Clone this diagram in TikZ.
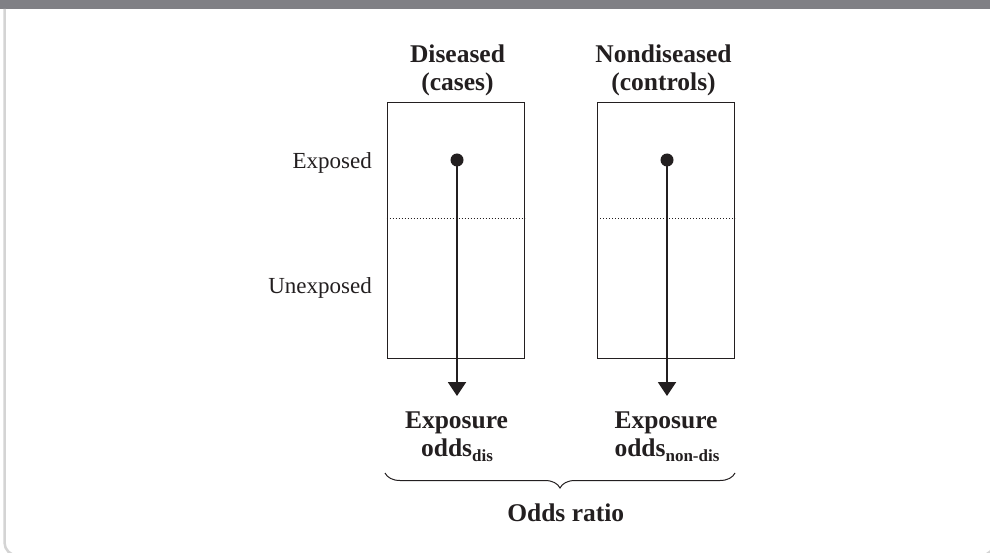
\documentclass[tikz,border=0pt]{standalone}
\usepackage{fontspec}
\setmainfont{Liberation Serif}
\usetikzlibrary{arrows.meta,decorations.pathreplacing}
\definecolor{ink}{HTML}{231F20}
\definecolor{barc}{HTML}{808085}
\definecolor{framec}{HTML}{D4D4D4}
\newcommand{\subtxt}[1]{\raisebox{-5pt}{\fontsize{17}{17}\selectfont #1}}
\begin{document}
\begin{tikzpicture}[x=1pt,y=-1pt,
  lab/.style={text=ink,inner sep=0pt,font=\fontsize{23}{28}\selectfont},
  hd/.style={text=ink,inner sep=0pt,font=\fontsize{25.5}{29}\selectfont\bfseries},
  colbox/.style={draw=ink,line width=1pt,minimum width=137pt,minimum height=255pt,inner sep=0pt},
  blob/.style={circle,fill=ink,inner sep=0pt,minimum size=13pt},
  sep/.style={ink,line width=0.8pt,dash pattern=on 1.4pt off 1.6pt},
  pointer/.style={ink,line width=2pt,-{Triangle[width=18pt,length=14pt]}}
]
\useasboundingbox (0,0) rectangle (990,553);
\fill[barc] (0,0) rectangle (990,9);
\draw[framec,line width=2.5pt,rounded corners=13pt] (4.5,9) -- (4.5,555.5) -- (994,555.5) -- (994,9);

% boxes
\node[colbox] (boxL) at (455.5,230.5) {};
\node[colbox] (boxR) at (666,230.5) {};
\draw[sep] (boxL.west |- 0,218) -- (boxL.east |- 0,218);
\draw[sep] (boxR.west |- 0,218) -- (boxR.east |- 0,218);

% row labels
\node[lab,anchor=base east] (expd) at (372,169) {Exposed};
\node[lab,anchor=base east] (unexpd) at (372,293) {Unexposed};

% headers
\node[hd,anchor=base] (hL1) at (457.5,62.7) {Diseased};
\node[hd,anchor=base] (hL2) at (457.5,91) {(cases)};
\node[hd,anchor=base] (hR1) at (663.5,62.7) {Nondiseased};
\node[hd,anchor=base] (hR2) at (663.5,91) {(controls)};

% dots and arrows
\node[blob] (dotL) at (457,160) {};
\node[blob] (dotR) at (667,160) {};
\coordinate (tipL) at (457,396);
\coordinate (tipR) at (667,396);
\draw[pointer] (dotL.center) -- (tipL);
\draw[pointer] (dotR.center) -- (tipR);

% results
\node[hd,anchor=base] (eL1) at (456.5,428) {Exposure};
\node[hd,anchor=base] (eL2) at (457,456.7) {odds\subtxt{dis}};
\node[hd,anchor=base] (eR1) at (666,428) {Exposure};
\node[hd,anchor=base] (eR2) at (667,456.7) {odds\subtxt{non-dis}};

% brace
\coordinate (brL) at (385,473);
\coordinate (brR) at (735,473);
\draw[ink,line width=1pt,decorate,decoration={brace,mirror,amplitude=15pt}] (brL) -- (brR);
\node[hd,anchor=base] (ratio) at (565.7,521.7) {Odds ratio};
\end{tikzpicture}
\end{document}
